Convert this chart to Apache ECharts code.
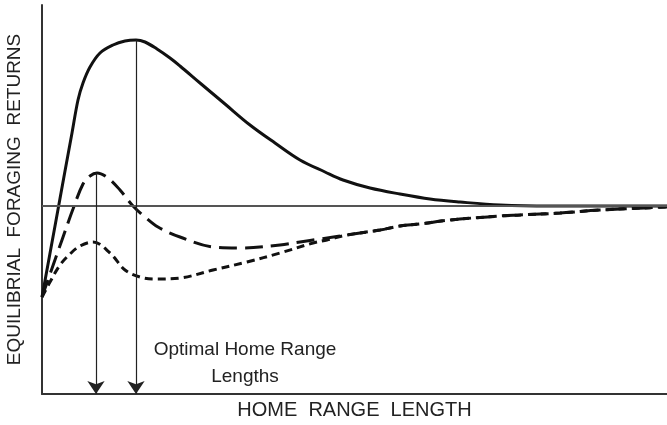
<!DOCTYPE html>
<html>
<head>
<meta charset="utf-8">
<script src="https://cdn.jsdelivr.net/npm/echarts@6/dist/echarts.min.js"></script>
<style>html,body{margin:0;padding:0;background:#fff;}#c{width:667px;height:425px;}</style>
</head>
<body>
<div id="c"></div>
<script>
// Data (arbitrary units: x = home range length, y = returns, 0 = break-even line)
var solidX = [0,13,23,30,36,41,48,58,71,83,94,103,115,128,138,158,183,208,233,258,283,301,328,358,388,418,458,508,625];
var solidY = [-91,-20,35,73,106,123,139,153,161,165,166,164,157,148,140,123,102,81,63,46,34,26,18,12,7,4,1,0,0];
var longX = [0,8,20,31,41,48,55,66,78,91,103,116,138,171,198,238,258,278,305,338,358,378,408,458,478,518,558,625];
var longY = [-91,-68,-34,-3,22,30,33,28,16,0,-11,-21,-31,-41,-42,-39,-36,-33,-29,-24,-20,-18,-14,-10,-9,-7,-4,-1];
var shortX = [0,8,18,28,38,51,68,83,98,113,138,171,205,238,271,285,305,338,358,378,408,458,478,518,558,625];
var shortY = [-91,-76,-59,-48,-40,-36,-47,-64,-71,-73,-72,-64,-56,-47,-37,-34,-29,-24,-20,-18,-14,-10,-9,-7,-4,-1];
var optimaX = [54, 94];        // optimal home range lengths (arrows)
var optimaTop = [33, 166];     // peak returns where arrows start
var xRange = [0, 625];
var yRange = [-188, 201];
var xTitle = 'HOME  RANGE  LENGTH';
var yTitle = 'EQUILIBRIAL  FORAGING  RETURNS';
var noteLines = ['Optimal Home Range', 'Lengths'];

function pairs(xs, ys){ return xs.map(function(x,i){ return [x, ys[i]]; }); }

var chart = echarts.init(document.getElementById('c'), null, {renderer:'canvas'});
var font = 'Liberation Sans, Arial, sans-serif';
var ink = '#111';

var arrowData = optimaX.map(function(x,i){
  return [{coord:[x, optimaTop[i]], symbol:'none'}, {coord:[x, yRange[0]], symbol:'arrow', symbolSize:[13,13]}];
});

chart.setOption({
  animation:false,
  backgroundColor:'#fff',
  grid:{left:42, right:0, top:5, bottom:31, containLabel:false, outerBoundsMode:'none'},
  xAxis:{type:'value', min:xRange[0], max:xRange[1],
    name:xTitle, nameLocation:'middle', nameGap:6,
    nameTextStyle:{fontFamily:font, fontSize:20, color:'#222'},
    axisLine:{show:true, onZero:false, lineStyle:{color:'#333', width:2}},
    axisTick:{show:false}, axisLabel:{show:false}, splitLine:{show:false}},
  yAxis:{type:'value', min:yRange[0], max:yRange[1],
    name:yTitle, nameLocation:'middle', nameGap:18,
    nameTextStyle:{fontFamily:font, fontSize:19, color:'#222'},
    axisLine:{show:true, onZero:false, lineStyle:{color:'#333', width:2}},
    axisTick:{show:false}, axisLabel:{show:false}, splitLine:{show:false}},
  series:[
    {type:'line', data:pairs(solidX, solidY), smooth:0.35, symbol:'none', silent:true,
      lineStyle:{color:ink, width:3, type:'solid'},
      markLine:{silent:true, symbol:['none','none'], label:{show:false},
        lineStyle:{color:'#555', width:2, type:'solid'},
        data:[{yAxis:0}]}},
    {type:'line', data:pairs(longX, longY), smooth:0.35, symbol:'none', silent:true,
      lineStyle:{color:ink, width:3, type:[18,8]},
      markLine:{silent:true, label:{show:false}, symbol:['none','arrow'],
        lineStyle:{color:'#222', width:1.2, type:'solid'},
        data:arrowData}},
    {type:'line', data:pairs(shortX, shortY), smooth:0.35, symbol:'none', silent:true,
      lineStyle:{color:ink, width:3, type:[8,5]}}
  ],
  graphic:[
    {type:'text', x:245, y:350, style:{text:noteLines[0], fontFamily:font, fontSize:19, fill:'#222', align:'center', verticalAlign:'middle'}},
    {type:'text', x:245, y:377, style:{text:noteLines[1], fontFamily:font, fontSize:19, fill:'#222', align:'center', verticalAlign:'middle'}}
  ]
});
</script>
</body>
</html>
